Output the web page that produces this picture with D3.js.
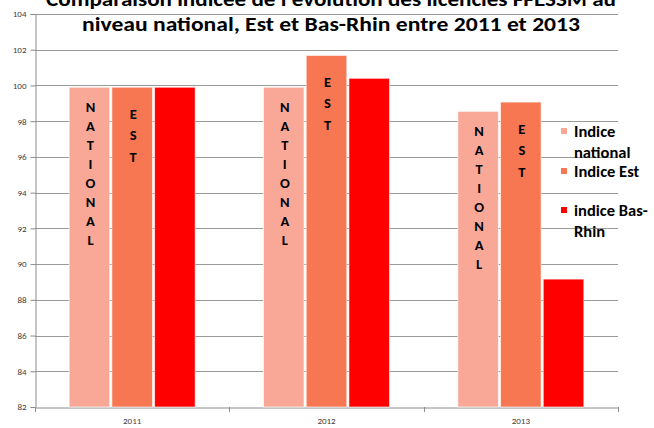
<!DOCTYPE html>
<html>
<head>
<meta charset="utf-8">
<script src="https://cdn.jsdelivr.net/npm/d3@7"></script>
<style>
  body { margin: 0; background: #fff; }
  svg { display: block; font-family: Carlito, Calibri, Lato, sans-serif; }
</style>
</head>
<body>
<svg width="654" height="428"></svg>
<script>
// data
var years = ['2011', '2012', '2013'];
var seriesNames = ['Indice national', 'Indice Est', 'indice Bas-Rhin'];
var indiceNational = [99.9, 99.9, 98.55];
var indiceEst = [99.9, 101.68, 99.07];
var indiceBasRhin = [99.9, 100.4, 89.16];
var barLabels = ['NATIONAL', 'EST', ''];
var yTicks = [82, 84, 86, 88, 90, 92, 94, 96, 98, 100, 102, 104];
var titleLines = ["Comparaison indicée de l'évolution des licenciés FFESSM au",
                  'niveau national, Est et Bas-Rhin entre 2011 et 2013'];

var colors = ['#f9a898', '#f77752', '#ff0000'];
var allSeries = [indiceNational, indiceEst, indiceBasRhin];

var svg = d3.select('svg');
var plotLeft = 35, plotRight = 618, plotTop = 14, plotBottom = 407;

var x = d3.scaleBand().domain(years).range([plotLeft, plotRight]).padding(0);
var xs = d3.scaleBand().domain(d3.range(3)).range([0, x.bandwidth()])
           .paddingInner(0.05).paddingOuter(0.8);
var y = d3.scaleLinear().domain([82, 104]).range([plotBottom, plotTop]);

// gridlines
svg.append('g').selectAll('line')
   .data(yTicks.filter(function(d){ return d > 82; }))
   .enter().append('line')
     .attr('x1', plotLeft).attr('x2', plotRight)
     .attr('y1', function(d){ return Math.round(y(d)) + 0.5; })
     .attr('y2', function(d){ return Math.round(y(d)) + 0.5; })
     .style('stroke', '#9a9a9a').style('stroke-width', 1);

// y axis
var yAxis = svg.append('g')
   .attr('transform', 'translate(' + (plotLeft + 0.5) + ',0)')
   .call(d3.axisLeft(y).tickValues(yTicks).tickSize(5).tickPadding(4));
yAxis.selectAll('path, line').style('stroke', '#8c8c8c');
yAxis.selectAll('text').style('font-size', '9px').style('fill', '#404040')
     .style('font-family', 'Carlito, Calibri, Lato, sans-serif');

// x axis
var xAxis = svg.append('g')
   .attr('transform', 'translate(0,' + (plotBottom + 0.5) + ')')
   .call(d3.axisBottom(x).tickSize(0).tickPadding(10));
xAxis.select('path').style('stroke', '#8c8c8c');
xAxis.selectAll('text').style('font-size', '9px').style('fill', '#404040')
     .style('font-family', 'Carlito, Calibri, Lato, sans-serif');
svg.append('g').selectAll('line')
   .data(years.concat(['end']))
   .enter().append('line')
     .attr('x1', function(d, i){ return Math.round(plotLeft + i * x.step()) + 0.5; })
     .attr('x2', function(d, i){ return Math.round(plotLeft + i * x.step()) + 0.5; })
     .attr('y1', plotBottom).attr('y2', plotBottom + 5)
     .style('stroke', '#8c8c8c');

// bars
allSeries.forEach(function(values, s) {
  var g = svg.append('g');
  g.selectAll('rect')
   .data(values)
   .enter().append('rect')
     .attr('x', function(d, i){ return x(years[i]) + xs(s); })
     .attr('y', function(d){ return y(d); })
     .attr('width', xs.bandwidth())
     .attr('height', function(d){ return plotBottom - y(d); })
     .style('fill', colors[s])
     .style('stroke', '#fff').style('stroke-opacity', 0.6).style('stroke-width', 1);

  // vertical letter labels
  var word = barLabels[s];
  if (word) {
    var offset = s === 0 ? 25 : 31.5;
    var gap = s === 0 ? 19 : 21.5;
    values.forEach(function(d, i) {
      g.append('g').selectAll('text')
       .data(word.split(''))
       .enter().append('text')
         .attr('x', x(years[i]) + xs(s) + xs.bandwidth() / 2 + 1)
         .attr('y', function(c, k){ return y(d) + offset + k * gap; })
         .attr('text-anchor', 'middle')
         .style('font-size', '14.5px').style('font-weight', 'bold')
         .style('fill', '#000')
         .text(function(c){ return c; });
    });
  }
});

// legend
var legendY = [131, 171, 210];
var legendText = [['Indice', 'national'], ['Indice Est'], ['indice Bas-', 'Rhin']];
var legend = svg.append('g');
seriesNames.forEach(function(name, i) {
  legend.append('rect')
    .attr('x', 561).attr('y', legendY[i] - 3)
    .attr('width', 6).attr('height', 6)
    .style('fill', colors[i]);
  legend.append('text')
    .attr('x', 574).attr('y', legendY[i] + 6)
    .style('font-size', '16.5px').style('font-weight', 'bold').style('fill', '#000')
    .selectAll('tspan')
    .data(legendText[i])
    .enter().append('tspan')
      .attr('x', 574)
      .attr('dy', function(d, k){ return k ? 20.5 : 0; })
      .text(function(d){ return d; });
});

// title
var titleWidths = [570, 498];
svg.append('g').selectAll('text')
   .data(titleLines)
   .enter().append('text')
     .attr('x', 331)
     .attr('y', function(d, i){ return 6 + i * 24.5; })
     .attr('text-anchor', 'middle')
     .attr('textLength', function(d, i){ return titleWidths[i]; })
     .attr('lengthAdjust', 'spacingAndGlyphs')
     .style('font-size', '21px').style('font-weight', 'bold').style('fill', '#000')
     .text(function(d){ return d; });
</script>
</body>
</html>
